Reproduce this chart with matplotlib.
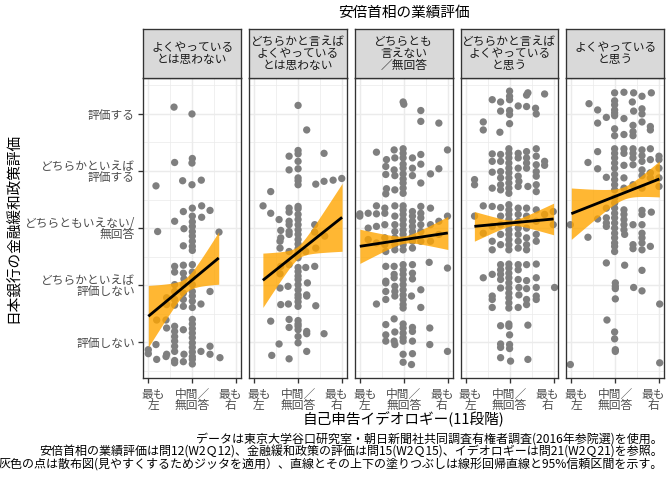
import numpy as np
import matplotlib.pyplot as plt
import matplotlib.transforms as mtransforms

plt.rcParams['font.family'] = ['Noto Sans CJK JP', 'DejaVu Sans']

# 安倍首相の業績評価（ファセット）
panel_labels = [
    'よくやっている\nとは思わない',
    'どちらかと言えば\nよくやっている\nとは思わない',
    'どちらとも\n言えない\n／無回答',
    'どちらかと言えば\nよくやっている\nと思う',
    'よくやっている\nと思う',
]
y_ticks = [1, 2, 3, 4, 5]
y_tick_labels = ['評価しない', 'どちらかといえば\n評価しない', 'どちらともいえない/\n無回答',
                 'どちらかといえば\n評価する', '評価する']
x_ticks = [0, 5, 10]
x_tick_labels = ['最も\n左', '中間／\n無回答', '最も\n右']

# ジッタ済みの点 (イデオロギー, 金融緩和評価)
p1_points = [
    (2.92, 5.12), (4.96, 5.00), (2.99, 4.15), (5.00, 4.22), (4.96, 4.14), (3.90, 3.83), (6.02, 3.84),
    (4.96, 3.76), (0.87, 3.74), (3.98, 3.29), (5.00, 3.35), (6.06, 3.39), (7.01, 3.31), (5.00, 3.21),
    (6.06, 3.19), (2.99, 3.12), (5.00, 3.11), (5.00, 3.03), (4.05, 2.99), (5.00, 2.94), (1.06, 2.94),
    (8.03, 2.93), (5.00, 2.86), (5.00, 2.77), (3.98, 2.69), (5.00, 2.68), (5.00, 2.61), (2.99, 2.33),
    (3.98, 2.35), (5.00, 2.36), (2.99, 2.23), (3.98, 2.21), (5.00, 2.23), (4.05, 2.11), (5.00, 2.13),
    (2.99, 2.01), (3.98, 2.01), (5.00, 2.01), (2.99, 1.89), (3.98, 1.86), (5.00, 1.89), (7.01, 1.89),
    (5.00, 1.81), (2.08, 1.78), (2.99, 1.75), (3.98, 1.75), (5.00, 1.72), (2.08, 1.66), (2.99, 1.65),
    (3.98, 1.63), (5.98, 1.67), (5.00, 1.61), (0.95, 1.39), (2.01, 1.39), (5.00, 1.40), (5.00, 1.32),
    (2.99, 1.28), (2.08, 1.25), (3.98, 1.22), (5.00, 1.24), (2.99, 1.19), (5.00, 1.16), (2.99, 1.10),
    (5.00, 1.08), (2.99, 1.02), (5.00, 0.99), (2.99, 0.93), (0.87, 0.96), (5.00, 0.91), (7.01, 0.93),
    (0.00, 0.87), (5.00, 0.83), (5.98, 0.84), (0.00, 0.80), (2.99, 0.84), (4.05, 0.79), (2.08, 0.79),
    (7.01, 0.79), (5.00, 0.75), (0.95, 0.70), (2.01, 0.75), (2.99, 0.68), (3.98, 0.66), (5.00, 0.70),
    (8.14, 0.73), (2.99, 0.64), (5.00, 0.62),
]
p2_points = [
    (5.00, 5.15), (5.98, 4.72), (5.00, 4.36), (5.00, 4.30), (3.98, 4.26), (7.95, 4.31), (5.00, 4.17),
    (3.98, 4.02), (5.00, 4.04), (5.00, 3.88), (5.00, 3.83), (5.00, 3.76), (7.01, 3.77), (7.95, 3.82),
    (8.98, 3.84), (9.96, 3.87), (1.89, 3.64), (1.02, 3.39), (3.98, 3.35), (5.00, 3.38), (5.00, 3.34),
    (1.89, 3.26), (3.98, 3.28), (5.00, 3.24), (2.84, 3.15), (3.98, 3.12), (5.00, 3.15), (3.98, 3.06),
    (5.00, 3.06), (3.03, 2.96), (3.98, 2.94), (5.00, 2.97), (6.89, 3.06), (3.98, 2.89), (5.00, 2.89),
    (6.89, 2.93), (8.03, 2.86), (3.03, 2.83), (5.00, 2.80), (2.95, 2.77), (5.00, 2.72), (2.95, 2.65),
    (7.01, 2.65), (5.00, 2.64), (3.98, 2.59), (5.00, 2.56), (5.87, 2.59), (5.00, 2.48), (3.03, 2.33),
    (3.98, 2.36), (5.00, 2.31), (5.87, 2.31), (6.89, 2.33), (2.95, 2.20), (5.00, 2.24), (5.00, 2.16),
    (6.06, 2.04), (5.00, 2.10), (2.95, 1.95), (3.86, 1.98), (5.00, 2.01), (5.00, 1.92), (5.00, 1.83),
    (5.98, 1.83), (5.00, 1.78), (5.98, 1.81), (5.00, 1.71), (3.03, 1.66), (3.90, 1.67), (5.00, 1.63),
    (7.01, 1.64), (1.89, 1.37), (3.98, 1.40), (5.00, 1.38), (5.00, 1.32), (3.98, 1.26), (5.00, 1.28),
    (5.00, 1.22), (5.98, 1.19), (5.98, 1.15), (5.00, 1.10), (7.95, 1.15), (2.84, 0.97), (5.00, 0.99),
    (5.98, 0.84), (2.01, 0.77), (3.98, 0.71),
]
p3_points = [
    (4.92, 5.21), (5.00, 5.17), (6.93, 5.06), (6.93, 4.87), (8.98, 4.84), (1.89, 4.33), (3.90, 4.37),
    (4.92, 4.39), (4.92, 4.31), (3.03, 4.20), (3.98, 4.23), (4.92, 4.23), (5.98, 4.23), (6.93, 4.29),
    (9.96, 4.37), (2.95, 4.08), (3.90, 4.02), (4.92, 4.12), (4.92, 4.05), (5.98, 4.05), (6.93, 4.12),
    (8.98, 4.04), (2.95, 3.94), (3.98, 3.92), (4.92, 3.95), (5.98, 3.92), (8.03, 3.95), (4.92, 3.86),
    (4.92, 3.79), (6.93, 3.79), (3.03, 3.69), (3.98, 3.67), (4.92, 3.70), (4.92, 3.61), (2.95, 3.60),
    (0.00, 3.25), (0.00, 3.21), (0.95, 3.26), (1.89, 3.39), (1.89, 3.25), (2.84, 3.35), (2.84, 3.26),
    (3.98, 3.39), (4.92, 3.39), (4.92, 3.32), (4.92, 3.24), (4.92, 3.15), (4.92, 3.06), (4.92, 2.97),
    (4.92, 2.89), (4.92, 2.80), (4.92, 2.71), (4.92, 2.62), (5.98, 3.29), (5.98, 3.21), (5.98, 3.12),
    (5.98, 3.03), (5.98, 2.94), (5.98, 2.86), (5.98, 2.77), (5.98, 2.65), (3.98, 3.21), (3.98, 3.06),
    (3.98, 2.94), (3.98, 2.83), (3.98, 2.71), (3.98, 2.62), (6.93, 3.38), (6.93, 3.26), (6.93, 3.18),
    (6.93, 3.06), (6.93, 2.94), (6.93, 2.77), (8.03, 3.35), (8.03, 3.06), (8.03, 2.77), (9.96, 3.21),
    (0.95, 3.00), (1.89, 3.03), (2.84, 3.06), (2.84, 2.83), (2.84, 2.71), (1.89, 2.74), (0.95, 2.80),
    (2.95, 2.59), (8.98, 3.12), (8.98, 2.89),
    (7.88, 2.40), (9.96, 2.30), (2.95, 2.33), (3.90, 2.33), (4.92, 2.36), (4.92, 2.27), (4.92, 2.19),
    (4.92, 2.10), (4.92, 2.01), (4.92, 1.92), (4.92, 1.83), (4.92, 1.75), (4.92, 1.66), (4.92, 1.60),
    (5.98, 2.36), (5.98, 2.21), (5.98, 2.11), (3.90, 2.19), (3.90, 2.13), (2.95, 2.07), (2.95, 2.04),
    (3.98, 1.98), (2.95, 1.89), (3.98, 1.89), (3.98, 1.81), (2.95, 1.75), (1.89, 1.67), (5.87, 1.81),
    (6.93, 1.92), (6.93, 1.61),
    (3.90, 1.41), (2.95, 1.31), (4.92, 1.32), (4.92, 1.25), (5.98, 1.26), (5.98, 1.19), (7.95, 1.25),
    (2.95, 1.13), (3.98, 1.18), (4.92, 1.16), (4.92, 1.08), (2.95, 1.02), (3.90, 1.02), (3.98, 0.96),
    (4.92, 1.02), (5.98, 1.02), (7.95, 0.96), (9.96, 0.84), (4.92, 0.79), (5.98, 0.80), (4.92, 0.65),
    (5.87, 0.61),
]
p4_points = [
    (5.00, 5.40), (5.00, 5.31), (5.00, 5.25), (7.08, 5.37), (6.93, 5.33), (8.98, 5.35), (3.03, 5.25),
    (3.98, 5.21), (5.98, 5.14), (6.93, 5.13), (7.95, 5.10), (5.00, 5.06), (3.98, 5.05), (5.00, 4.99),
    (8.03, 5.00), (2.01, 4.86), (2.01, 4.72), (5.00, 4.83), (3.90, 4.68),
    (4.92, 4.39), (4.92, 4.31), (4.92, 4.23), (4.92, 4.14), (4.92, 4.05), (4.92, 3.97), (4.92, 3.88),
    (4.92, 3.79), (4.92, 3.70), (4.92, 3.61), (5.98, 4.31), (5.98, 4.23), (5.98, 4.05), (5.98, 3.91),
    (5.98, 3.73), (6.93, 4.34), (6.93, 4.23), (6.93, 4.14), (6.93, 4.05), (8.03, 4.39), (8.03, 4.26),
    (8.03, 4.11), (8.03, 3.99), (8.03, 3.91), (8.03, 3.76), (8.03, 3.64), (8.98, 4.17), (8.98, 4.10),
    (3.03, 4.30), (3.98, 4.29), (3.98, 4.17), (3.98, 3.99), (3.98, 3.88), (3.98, 3.76), (3.98, 3.67),
    (3.03, 3.98), (3.03, 3.70), (1.02, 3.85), (1.02, 3.76), (7.08, 3.73), (6.06, 3.82), (3.03, 4.17),
    (2.01, 3.39), (2.01, 2.91), (3.03, 3.38), (3.03, 3.03), (3.03, 2.77), (3.03, 2.62), (3.98, 3.36),
    (3.98, 3.21), (3.98, 3.06), (3.98, 2.89), (3.98, 2.71), (4.92, 3.41), (4.92, 3.32), (4.92, 3.24),
    (4.92, 3.15), (4.92, 3.06), (4.92, 2.97), (4.92, 2.89), (4.92, 2.80), (4.92, 2.71), (4.92, 2.62),
    (5.98, 3.35), (5.98, 3.24), (5.98, 3.12), (5.98, 3.00), (5.98, 2.89), (5.98, 2.77), (5.98, 2.65),
    (6.93, 3.35), (6.93, 3.21), (6.93, 3.00), (6.93, 2.83), (6.93, 2.71), (6.93, 2.62), (8.03, 3.32),
    (8.03, 3.12), (8.03, 2.89), (8.03, 2.77), (8.98, 3.24), (9.96, 3.29), (9.96, 3.06), (1.02, 3.21),
    (2.01, 2.13), (3.03, 2.19), (3.98, 2.36), (3.98, 2.27), (3.98, 2.19), (3.98, 2.10), (3.98, 1.95),
    (4.92, 2.37), (4.92, 2.30), (4.92, 2.21), (4.92, 2.13), (4.92, 2.04), (4.92, 1.95), (4.92, 1.86),
    (4.92, 1.78), (4.92, 1.69), (4.92, 1.60), (5.98, 2.36), (5.98, 2.27), (5.98, 2.10), (6.06, 1.96),
    (6.06, 1.83), (6.93, 2.36), (6.93, 2.08), (6.93, 1.94), (6.93, 1.75), (6.93, 1.66), (8.03, 2.37),
    (8.03, 2.13), (8.03, 1.96), (8.03, 1.81), (8.03, 1.75), (3.03, 1.81), (3.03, 1.75), (3.03, 1.61),
    (5.98, 1.61), (10.11, 1.96),
    (3.98, 1.29), (4.92, 1.32), (4.92, 1.28), (7.08, 1.30), (5.00, 1.13), (3.98, 0.97), (3.98, 0.91),
    (5.00, 0.96), (5.00, 0.89), (3.98, 0.73), (5.11, 0.67), (7.08, 0.70),
]
p5_points = [
    (4.92, 5.37), (5.98, 5.38), (7.08, 5.37), (8.03, 5.31), (9.09, 5.37), (2.01, 5.18), (4.92, 5.23),
    (4.92, 5.16), (6.93, 5.21), (2.99, 5.07), (4.92, 5.07), (4.92, 5.02), (7.08, 5.05), (8.03, 5.09),
    (8.03, 5.00), (3.98, 4.94), (4.92, 4.97), (5.98, 4.92), (2.99, 4.84), (8.03, 4.86), (7.01, 4.80),
    (4.92, 4.74), (4.92, 4.62), (5.98, 4.64), (7.01, 4.69), (7.01, 4.62), (8.98, 4.78), (8.98, 4.72),
    (2.99, 4.34), (4.92, 4.39), (4.92, 4.31), (4.92, 4.23), (4.92, 4.14), (4.92, 4.05), (4.92, 3.94),
    (4.92, 3.85), (4.92, 3.76), (4.92, 3.67), (5.98, 4.39), (5.98, 4.31), (5.98, 4.10), (7.01, 4.39),
    (7.01, 4.31), (7.01, 4.23), (7.01, 4.11), (8.03, 4.37), (8.03, 4.27), (8.03, 4.17), (8.03, 4.02),
    (8.03, 3.92), (8.98, 4.39), (8.98, 4.20), (8.98, 3.97), (8.98, 3.88), (9.96, 4.26), (9.96, 4.20),
    (9.96, 4.05), (9.96, 3.88), (9.96, 3.73), (1.89, 4.15), (2.99, 4.04), (3.98, 3.89), (5.98, 3.88),
    (7.01, 3.76), (8.03, 3.70), (5.98, 3.70),
    (-0.11, 3.06), (1.89, 2.84), (2.99, 3.16), (3.98, 3.35), (3.98, 3.18), (3.98, 3.09), (3.98, 3.03),
    (4.92, 3.53), (4.92, 3.44), (4.92, 3.35), (4.92, 3.26), (4.92, 3.18), (4.92, 3.09), (4.92, 3.00),
    (4.92, 2.91), (4.92, 2.83), (4.92, 2.74), (4.92, 2.68), (4.92, 2.59), (5.98, 3.32), (5.98, 3.24),
    (5.98, 3.15), (5.98, 3.06), (5.98, 2.97), (6.06, 2.89), (7.01, 3.06), (7.01, 2.71), (7.01, 2.64),
    (8.03, 3.31), (8.03, 3.24), (8.03, 3.06), (8.03, 2.91), (8.03, 2.83), (8.03, 2.74), (8.03, 2.62),
    (9.09, 3.28), (8.98, 2.68),
    (3.98, 2.39), (6.06, 2.35), (8.03, 2.26), (5.00, 2.04), (5.00, 1.98), (5.00, 1.94), (7.08, 1.96),
    (8.03, 1.90), (5.00, 1.76), (10.04, 1.67),
    (4.05, 1.39), (4.92, 1.18), (4.92, 1.06), (5.00, 0.87), (5.00, 0.84), (-0.11, 0.61), (10.04, 0.64),
]
panel_points = [p1_points, p2_points, p3_points, p4_points, p5_points]

# 回帰直線と95%信頼区間
fit_x_range = [(0, 8), (1, 10), (0, 10), (1, 10), (0, 10)]
fit_y_ends = [(1.455, 2.477), (2.086, 3.189), (2.681, 2.915), (3.031, 3.160), (3.253, 3.861)]
band_half_ends = [(0.54, 0.46), (0.476, 0.595), (0.30, 0.29), (0.26, 0.277), (0.45, 0.315)]
band_half_min = [0.13, 0.11, 0.065, 0.05, 0.11]

title_text = '安倍首相の業績評価'
x_title = '自己申告イデオロギー(11段階)'
y_title = '日本銀行の金融緩和政策評価'
caption = ('データは東京大学谷口研究室・朝日新聞社共同調査有権者調査(2016年参院選)を使用。\n'
           '安倍首相の業績評価は問12(W2Ｑ12)、金融緩和政策の評価は問15(W2Ｑ15)、イデオロギーは問21(W2Ｑ21)を参照。\n'
           '灰色の点は散布図(見やすくするためジッタを適用）、直線とその上下の塗りつぶしは線形回帰直線と95%信頼区間を示す。')

W, H = 672, 480
fig = plt.figure(figsize=(W / 96, H / 96), dpi=96)

panel_left = 143.3
panel_w = 97.7
panel_gap = 8.05
panel_top = 78
panel_bottom = 378
strip_top = 29.3

grid_col = '#EBEBEB'
border_col = '#333333'
tick_text_col = '#4D4D4D'
# ラベルの横ずれ（パネル端に寄せる）
x_label_shift = [5, 0, -6]

for i in range(5):
    left = panel_left + i * (panel_w + panel_gap)
    ax = fig.add_axes([left / W, 1 - panel_bottom / H, panel_w / W, (panel_bottom - panel_top) / H])
    ax.set_xlim(-0.57, 10.53)
    ax.set_ylim(0.374, 5.63)

    for gx in [2.5, 7.5]:
        ax.axvline(gx, color=grid_col, lw=0.55, zorder=0)
    for gx in x_ticks:
        ax.axvline(gx, color=grid_col, lw=1.07, zorder=0)
    for gy in [0.5, 1.5, 2.5, 3.5, 4.5, 5.5]:
        ax.axhline(gy, color=grid_col, lw=0.55, zorder=0)
    for gy in y_ticks:
        ax.axhline(gy, color=grid_col, lw=1.07, zorder=0)

    pts = np.array(panel_points[i])
    ax.scatter(pts[:, 0], pts[:, 1], s=30, color='#7F7F7F', edgecolors='none', zorder=2)

    # 信頼区間の幅: hw(x)^2 = h0^2 + k^2 (x - xbar)^2
    xl, xr = fit_x_range[i]
    yl, yr = fit_y_ends[i]
    hl, hr = band_half_ends[i]
    h0 = band_half_min[i]
    ratio = np.sqrt((hl ** 2 - h0 ** 2) / (hr ** 2 - h0 ** 2))
    xbar = (xl + ratio * xr) / (1 + ratio)
    k = np.sqrt(hl ** 2 - h0 ** 2) / (xbar - xl)
    xs = np.linspace(xl, xr, 80)
    ys = yl + (yr - yl) * (xs - xl) / (xr - xl)
    hw = np.sqrt(h0 ** 2 + (k * (xs - xbar)) ** 2)
    ax.fill_between(xs, ys - hw, ys + hw, color='#FFA500', alpha=0.8, lw=0, zorder=3)
    ax.plot(xs, ys, color='black', lw=2.1, zorder=4, solid_capstyle='butt')

    ax.set_xticks(x_ticks)
    ax.set_xticklabels([])
    ax.set_yticks(y_ticks)
    ax.tick_params(axis='both', direction='out', length=3.7, width=1.0, color=border_col, pad=2.5)
    if i == 0:
        ax.set_yticklabels(y_tick_labels, fontsize=8.8, color=tick_text_col)
        for lbl in ax.get_yticklabels():
            lbl.set_linespacing(0.8)
    else:
        ax.set_yticklabels([])
        ax.tick_params(axis='y', length=0)
    for sp in ax.spines.values():
        sp.set_color(border_col)
        sp.set_linewidth(1.0)

    # x 軸の目盛りラベル
    blend = mtransforms.blended_transform_factory(ax.transData, ax.transAxes)
    for xt, lab, dx in zip(x_ticks, x_tick_labels, x_label_shift):
        tr = mtransforms.offset_copy(blend, fig=fig, x=dx, y=-10.0, units='dots')
        ax.text(xt, 0, lab, transform=tr, ha='center', va='top', fontsize=8.8,
                color=tick_text_col, linespacing=0.8)

    # ストリップ
    sax = fig.add_axes([left / W, 1 - panel_top / H, panel_w / W, (panel_top - strip_top) / H])
    sax.set_xlim(0, 1)
    sax.set_ylim(0, 1)
    sax.set_facecolor('#D9D9D9')
    sax.set_xticks([])
    sax.set_yticks([])
    for sp in sax.spines.values():
        sp.set_color(border_col)
        sp.set_linewidth(1.0)
    sax.text(0.5, 0.5, panel_labels[i], ha='center', va='center', fontsize=8.8,
             color='#1A1A1A', linespacing=0.92)

center_x = (panel_left + (5 * panel_w + 4 * panel_gap) / 2) / W
fig.text(center_x, 1 - 13 / H, title_text, ha='center', va='center', fontsize=11, color='black')
fig.text(center_x, 1 - 419 / H, x_title, ha='center', va='center', fontsize=11, color='black')
fig.text(14 / W, 1 - 228 / H, y_title, ha='center', va='center', rotation=90, fontsize=11, color='black')
fig.text(663 / W, 1 - 452 / H, caption, ha='right', va='center', fontsize=9.0, color='black',
         linespacing=0.95, multialignment='right')

fig.savefig('out.png', dpi=96)
